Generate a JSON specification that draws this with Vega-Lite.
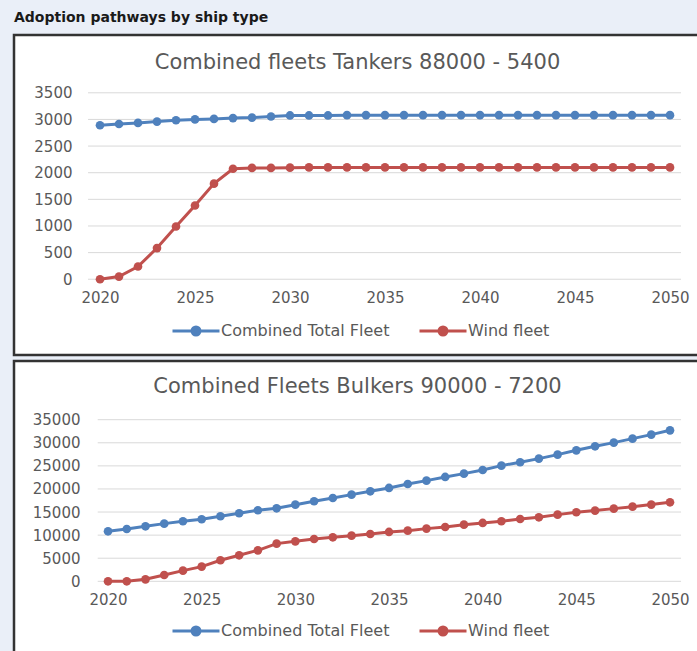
{
  "$schema": "https://vega.github.io/schema/vega-lite/v6.json",
  "background": "#eaeff8",
  "padding": {"left": 12, "top": 10, "right": 0, "bottom": 0},
  "title": {"text": "Adoption pathways by ship type", "anchor": "start", "frame": "group", "font": "DejaVu Sans", "fontSize": 14, "fontWeight": "bold", "color": "#1a1a1a", "offset": 9},
  "datasets": {
    "tankers": [
      {"year": 2020, "Combined Total Fleet": 2890, "Wind fleet": 0},
      {"year": 2021, "Combined Total Fleet": 2915, "Wind fleet": 50},
      {"year": 2022, "Combined Total Fleet": 2935, "Wind fleet": 240},
      {"year": 2023, "Combined Total Fleet": 2960, "Wind fleet": 585},
      {"year": 2024, "Combined Total Fleet": 2985, "Wind fleet": 990},
      {"year": 2025, "Combined Total Fleet": 3000, "Wind fleet": 1385},
      {"year": 2026, "Combined Total Fleet": 3010, "Wind fleet": 1795},
      {"year": 2027, "Combined Total Fleet": 3025, "Wind fleet": 2075},
      {"year": 2028, "Combined Total Fleet": 3035, "Wind fleet": 2090},
      {"year": 2029, "Combined Total Fleet": 3055, "Wind fleet": 2090},
      {"year": 2030, "Combined Total Fleet": 3075, "Wind fleet": 2095},
      {"year": 2031, "Combined Total Fleet": 3075, "Wind fleet": 2100},
      {"year": 2032, "Combined Total Fleet": 3075, "Wind fleet": 2100},
      {"year": 2033, "Combined Total Fleet": 3080, "Wind fleet": 2100},
      {"year": 2034, "Combined Total Fleet": 3080, "Wind fleet": 2100},
      {"year": 2035, "Combined Total Fleet": 3080, "Wind fleet": 2100},
      {"year": 2036, "Combined Total Fleet": 3080, "Wind fleet": 2100},
      {"year": 2037, "Combined Total Fleet": 3080, "Wind fleet": 2100},
      {"year": 2038, "Combined Total Fleet": 3080, "Wind fleet": 2100},
      {"year": 2039, "Combined Total Fleet": 3080, "Wind fleet": 2100},
      {"year": 2040, "Combined Total Fleet": 3080, "Wind fleet": 2100},
      {"year": 2041, "Combined Total Fleet": 3080, "Wind fleet": 2100},
      {"year": 2042, "Combined Total Fleet": 3080, "Wind fleet": 2100},
      {"year": 2043, "Combined Total Fleet": 3080, "Wind fleet": 2100},
      {"year": 2044, "Combined Total Fleet": 3080, "Wind fleet": 2100},
      {"year": 2045, "Combined Total Fleet": 3080, "Wind fleet": 2100},
      {"year": 2046, "Combined Total Fleet": 3080, "Wind fleet": 2100},
      {"year": 2047, "Combined Total Fleet": 3080, "Wind fleet": 2100},
      {"year": 2048, "Combined Total Fleet": 3080, "Wind fleet": 2100},
      {"year": 2049, "Combined Total Fleet": 3080, "Wind fleet": 2100},
      {"year": 2050, "Combined Total Fleet": 3080, "Wind fleet": 2100}
    ],
    "bulkers": [
      {"year": 2020, "Combined Total Fleet": 10830, "Wind fleet": 0},
      {"year": 2021, "Combined Total Fleet": 11330, "Wind fleet": 0},
      {"year": 2022, "Combined Total Fleet": 11910, "Wind fleet": 430},
      {"year": 2023, "Combined Total Fleet": 12490, "Wind fleet": 1370},
      {"year": 2024, "Combined Total Fleet": 13000, "Wind fleet": 2310},
      {"year": 2025, "Combined Total Fleet": 13430, "Wind fleet": 3180},
      {"year": 2026, "Combined Total Fleet": 14080, "Wind fleet": 4550},
      {"year": 2027, "Combined Total Fleet": 14730, "Wind fleet": 5630},
      {"year": 2028, "Combined Total Fleet": 15380, "Wind fleet": 6710},
      {"year": 2029, "Combined Total Fleet": 15810, "Wind fleet": 8160},
      {"year": 2030, "Combined Total Fleet": 16600, "Wind fleet": 8660},
      {"year": 2031, "Combined Total Fleet": 17330, "Wind fleet": 9170},
      {"year": 2032, "Combined Total Fleet": 18050, "Wind fleet": 9530},
      {"year": 2033, "Combined Total Fleet": 18770, "Wind fleet": 9890},
      {"year": 2034, "Combined Total Fleet": 19490, "Wind fleet": 10250},
      {"year": 2035, "Combined Total Fleet": 20220, "Wind fleet": 10690},
      {"year": 2036, "Combined Total Fleet": 21080, "Wind fleet": 10970},
      {"year": 2037, "Combined Total Fleet": 21800, "Wind fleet": 11410},
      {"year": 2038, "Combined Total Fleet": 22600, "Wind fleet": 11770},
      {"year": 2039, "Combined Total Fleet": 23320, "Wind fleet": 12270},
      {"year": 2040, "Combined Total Fleet": 24110, "Wind fleet": 12640},
      {"year": 2041, "Combined Total Fleet": 25050, "Wind fleet": 13000},
      {"year": 2042, "Combined Total Fleet": 25780, "Wind fleet": 13500},
      {"year": 2043, "Combined Total Fleet": 26570, "Wind fleet": 13860},
      {"year": 2044, "Combined Total Fleet": 27440, "Wind fleet": 14440},
      {"year": 2045, "Combined Total Fleet": 28370, "Wind fleet": 14950},
      {"year": 2046, "Combined Total Fleet": 29240, "Wind fleet": 15310},
      {"year": 2047, "Combined Total Fleet": 30040, "Wind fleet": 15740},
      {"year": 2048, "Combined Total Fleet": 30900, "Wind fleet": 16170},
      {"year": 2049, "Combined Total Fleet": 31770, "Wind fleet": 16610},
      {"year": 2050, "Combined Total Fleet": 32700, "Wind fleet": 17110}
    ],
    "gridT": [{"v": 0}, {"v": 500}, {"v": 1000}, {"v": 1500}, {"v": 2000}, {"v": 2500}, {"v": 3000}, {"v": 3500}],
    "gridB": [{"v": 0}, {"v": 5000}, {"v": 10000}, {"v": 15000}, {"v": 20000}, {"v": 25000}, {"v": 30000}, {"v": 35000}]
  },
  "vconcat": [
    {
      "width": 687,
      "height": 320,
      "title": {"text": "Combined fleets Tankers 88000 - 5400", "offset": -38, "font": "DejaVu Sans", "fontSize": 21, "fontWeight": "normal", "color": "#595959", "anchor": "middle"},
      "layer": [
        {
          "data": {"name": "gridT"},
          "mark": {"type": "rule", "color": "#d9d9d9", "strokeWidth": 1},
          "encoding": {
            "x": {"datum": 2019.37, "type": "quantitative", "scale": {"domain": [2015.474, 2051.632], "nice": false, "zero": false},
                  "axis": {"values": [2020, 2025, 2030, 2035, 2040, 2045, 2050], "format": "d", "title": null, "grid": false, "domain": false, "ticks": false, "tickSize": 0, "labelPadding": 0, "offset": -65, "labelFont": "DejaVu Sans", "labelFontSize": 15, "labelColor": "#595959", "labelOverlap": false, "labelFlush": false}},
            "x2": {"datum": 2050.58},
            "y": {"field": "v", "type": "quantitative", "scale": {"domain": [-1422, 4585], "nice": false, "zero": false},
                  "axis": {"values": [0, 500, 1000, 1500, 2000, 2500, 3000, 3500], "format": "d", "title": null, "grid": false, "domain": false, "ticks": false, "tickSize": 0, "labelPadding": 0, "offset": -58, "labelFont": "DejaVu Sans", "labelFontSize": 15, "labelColor": "#595959", "labelOverlap": false, "labelFlush": false}}
          }
        },
        {
          "data": {"name": "tankers"},
          "transform": [{"fold": ["Combined Total Fleet", "Wind fleet"], "as": ["series", "value"]}],
          "mark": {"type": "line", "strokeWidth": 3},
          "encoding": {
            "x": {"field": "year", "type": "quantitative", "axis": {"title": null}},
            "y": {"field": "value", "type": "quantitative", "axis": {"title": null}},
            "color": {"field": "series", "type": "nominal",
                      "scale": {"domain": ["Combined Total Fleet", "Wind fleet"], "range": ["#4F81BD", "#C0504D"]},
                      "legend": {"orient": "none", "legendX": 157, "legendY": 271, "direction": "horizontal", "title": null, "padding": 0,
                                 "symbolType": "M-1,0H1M-0.17,0A0.17,0.17,0,1,1,0.17,0A0.17,0.17,0,1,1,-0.17,0Z",
                                 "symbolSize": 2209, "symbolStrokeWidth": 3, "labelFont": "DejaVu Sans", "labelFontSize": 16, "labelColor": "#595959", "labelLimit": 300, "labelOffset": 0, "columnPadding": 23,
                                 "encode": {"symbols": {"update": {"fill": {"signal": "datum.value == 'Wind fleet' ? '#C0504D' : '#4F81BD'"}, "stroke": {"signal": "datum.value == 'Wind fleet' ? '#C0504D' : '#4F81BD'"}, "opacity": {"value": 1}}}}}}
          }
        },
        {
          "data": {"name": "tankers"},
          "transform": [{"fold": ["Combined Total Fleet", "Wind fleet"], "as": ["series", "value"]}],
          "mark": {"type": "point", "filled": true, "size": 75, "opacity": 1},
          "encoding": {
            "x": {"field": "year", "type": "quantitative", "axis": {"title": null}},
            "y": {"field": "value", "type": "quantitative", "axis": {"title": null}},
            "color": {"field": "series", "type": "nominal"}
          }
        }
      ]
    },
    {
      "width": 687,
      "height": 297,
      "title": {"text": "Combined Fleets Bulkers 90000 - 7200", "offset": -36, "font": "DejaVu Sans", "fontSize": 21, "fontWeight": "normal", "color": "#595959", "anchor": "middle"},
      "layer": [
        {
          "data": {"name": "gridB"},
          "mark": {"type": "rule", "color": "#d9d9d9", "strokeWidth": 1},
          "encoding": {
            "x": {"datum": 2019.45, "type": "quantitative", "scale": {"domain": [2014.981, 2051.655], "nice": false, "zero": false},
                  "axis": {"values": [2020, 2025, 2030, 2035, 2040, 2045, 2050], "format": "d", "title": null, "grid": false, "domain": false, "ticks": false, "tickSize": 0, "labelPadding": 0, "offset": -66, "labelFont": "DejaVu Sans", "labelFontSize": 15, "labelColor": "#595959", "labelOverlap": false, "labelFlush": false}},
            "x2": {"datum": 2050.59},
            "y": {"field": "v", "type": "quantitative", "scale": {"domain": [-16612, 47714], "nice": false, "zero": false},
                  "axis": {"values": [0, 5000, 10000, 15000, 20000, 25000, 30000, 35000], "format": "d", "title": null, "grid": false, "domain": false, "ticks": false, "tickSize": 0, "labelPadding": 0, "offset": -66, "labelFont": "DejaVu Sans", "labelFontSize": 15, "labelColor": "#595959", "labelOverlap": false, "labelFlush": false}}
          }
        },
        {
          "data": {"name": "bulkers"},
          "transform": [{"fold": ["Combined Total Fleet", "Wind fleet"], "as": ["series", "value"]}],
          "mark": {"type": "line", "strokeWidth": 3},
          "encoding": {
            "x": {"field": "year", "type": "quantitative", "axis": {"title": null}},
            "y": {"field": "value", "type": "quantitative", "axis": {"title": null}},
            "color": {"field": "series", "type": "nominal",
                      "scale": {"domain": ["Combined Total Fleet", "Wind fleet"], "range": ["#4F81BD", "#C0504D"]},
                      "legend": {"orient": "none", "legendX": 157, "legendY": 245, "direction": "horizontal", "title": null, "padding": 0,
                                 "symbolType": "M-1,0H1M-0.17,0A0.17,0.17,0,1,1,0.17,0A0.17,0.17,0,1,1,-0.17,0Z",
                                 "symbolSize": 2209, "symbolStrokeWidth": 3, "labelFont": "DejaVu Sans", "labelFontSize": 16, "labelColor": "#595959", "labelLimit": 300, "labelOffset": 0, "columnPadding": 23,
                                 "encode": {"symbols": {"update": {"fill": {"signal": "datum.value == 'Wind fleet' ? '#C0504D' : '#4F81BD'"}, "stroke": {"signal": "datum.value == 'Wind fleet' ? '#C0504D' : '#4F81BD'"}, "opacity": {"value": 1}}}}}}
          }
        },
        {
          "data": {"name": "bulkers"},
          "transform": [{"fold": ["Combined Total Fleet", "Wind fleet"], "as": ["series", "value"]}],
          "mark": {"type": "point", "filled": true, "size": 75, "opacity": 1},
          "encoding": {
            "x": {"field": "year", "type": "quantitative", "axis": {"title": null}},
            "y": {"field": "value", "type": "quantitative", "axis": {"title": null}},
            "color": {"field": "series", "type": "nominal"}
          }
        }
      ]
    }
  ],
  "spacing": 2,
  "resolve": {"scale": {"color": "independent"}, "legend": {"color": "independent"}},
  "config": {
    "font": "DejaVu Sans",
    "view": {"stroke": "#333333", "strokeWidth": 2.5, "fill": "white"}
  }
}
